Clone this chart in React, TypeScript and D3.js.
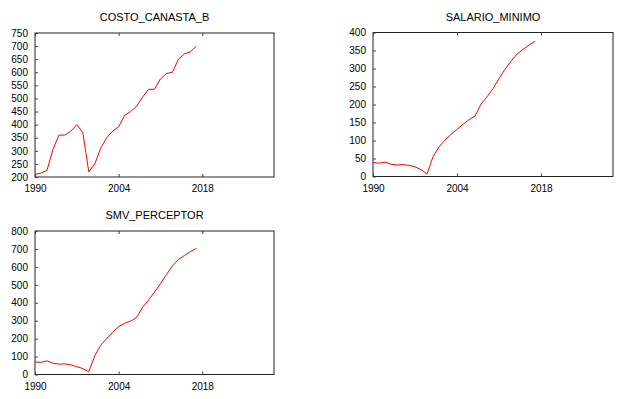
import React, { useEffect, useRef } from 'react';
import * as d3 from 'd3';

const years = d3.range(1990, 2018);

const costoCanasta = [210, 215, 225, 305, 360, 360, 375, 400, 370, 220, 250, 310, 350, 375, 392, 435, 450, 470, 505, 535, 535, 575, 595, 600, 650, 670, 678, 700];
const salarioMinimo = [39, 37, 40, 34, 32, 33, 31, 27, 19, 7, 55, 82, 101, 117, 131, 145, 158, 168, 201, 221, 244, 272, 298, 320, 340, 353, 365, 376];
const smvPerceptor = [70, 68, 76, 63, 58, 59, 54, 44, 33, 15, 105, 163, 200, 235, 267, 285, 298, 318, 374, 415, 459, 507, 557, 605, 641, 663, 685, 703];

const xTicks = [1990, 2004, 2018];

interface Panel {
  title: string;
  values: number[];
  yDomain: [number, number];
  yStep: number;
  box: { left: number; right: number; top: number; bottom: number };
}

const panels: Panel[] = [
  { title: 'COSTO_CANASTA_B', values: costoCanasta, yDomain: [200, 750], yStep: 50, box: { left: 35, right: 274, top: 33, bottom: 177 } },
  { title: 'SALARIO_MINIMO', values: salarioMinimo, yDomain: [0, 400], yStep: 50, box: { left: 373, right: 613, top: 32.5, bottom: 176.5 } },
  { title: 'SMV_PERCEPTOR', values: smvPerceptor, yDomain: [0, 800], yStep: 100, box: { left: 35, right: 274, top: 231, bottom: 374.5 } },
];

export default function App() {
  const svgRef = useRef<SVGSVGElement>(null);

  useEffect(() => {
    if (!svgRef.current) return;
    const svg = d3.select(svgRef.current);
    svg.selectAll('*').remove();

    const font = '"Liberation Sans", Arial, sans-serif';

    panels.forEach(p => {
      const { left, right, top, bottom } = p.box;
      const x = d3.scaleLinear().domain([1990, 2030]).range([left, right]);
      const y = d3.scaleLinear().domain(p.yDomain).range([bottom, top]);

      const g = svg.append('g');

      // frame
      g.append('rect')
        .attr('x', left)
        .attr('y', top)
        .attr('width', right - left)
        .attr('height', bottom - top)
        .attr('fill', 'none')
        .attr('stroke', '#222')
        .attr('stroke-width', 1);

      const yTicks = d3.range(p.yDomain[0], p.yDomain[1] + 1, p.yStep);

      const ya = g.append('g')
        .attr('transform', `translate(${left},0)`)
        .call(d3.axisLeft(y).tickValues(yTicks).tickFormat(d3.format('d')).tickSize(-3).tickPadding(7));
      ya.select('.domain').remove();

      const xa = g.append('g')
        .attr('transform', `translate(0,${bottom})`)
        .call(d3.axisBottom(x).tickValues(xTicks).tickFormat(d3.format('d')).tickSize(-3).tickPadding(8));
      xa.select('.domain').remove();

      const xt = g.append('g')
        .attr('transform', `translate(0,${top})`)
        .call(d3.axisTop(x).tickValues(xTicks).tickFormat(() => '').tickSize(-3));
      xt.select('.domain').remove();

      [ya, xa, xt].forEach(a => {
        a.selectAll('text')
          .style('font-family', font)
          .style('font-size', '10px')
          .attr('fill', '#000');
        a.selectAll('line').attr('stroke', '#444');
      });

      const line = d3.line<number>()
        .x((_, i) => x(years[i]))
        .y(d => y(d));

      g.append('path')
        .datum(p.values)
        .attr('d', line)
        .attr('fill', 'none')
        .attr('stroke', '#ff0000')
        .attr('stroke-width', 1);

      g.append('text')
        .attr('x', (left + right) / 2)
        .attr('y', top - 12)
        .attr('text-anchor', 'middle')
        .style('font-family', font)
        .style('font-size', '11px')
        .attr('fill', '#000')
        .text(p.title);
    });
  }, []);

  return (
    <svg
      ref={svgRef}
      width={629}
      height={399}
      style={{ position: 'absolute', left: 0, top: 0, background: '#fff' }}
    />
  );
}
